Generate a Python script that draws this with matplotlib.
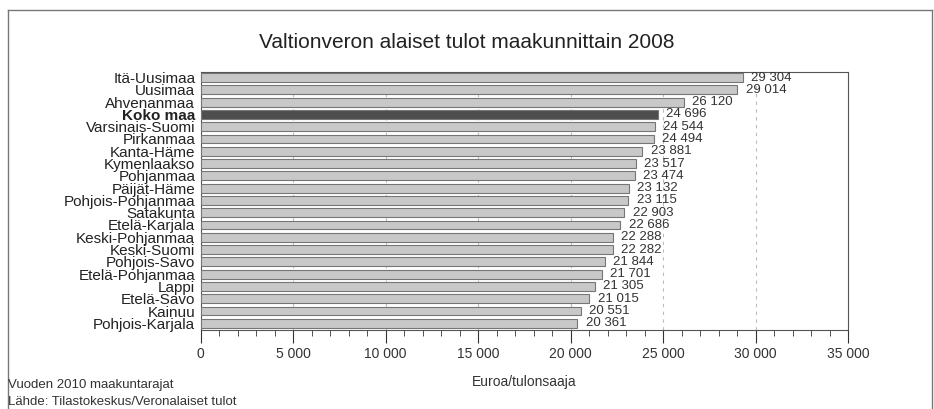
import matplotlib.pyplot as plt
from matplotlib.lines import Line2D
from matplotlib.ticker import MultipleLocator, FuncFormatter

# Data
regions = ["Itä-Uusimaa", "Uusimaa", "Ahvenanmaa", "Koko maa", "Varsinais-Suomi",
           "Pirkanmaa", "Kanta-Häme", "Kymenlaakso", "Pohjanmaa", "Päijät-Häme",
           "Pohjois-Pohjanmaa", "Satakunta", "Etelä-Karjala", "Keski-Pohjanmaa",
           "Keski-Suomi", "Pohjois-Savo", "Etelä-Pohjanmaa", "Lappi", "Etelä-Savo",
           "Kainuu", "Pohjois-Karjala"]
income = [29304, 29014, 26120, 24696, 24544, 24494, 23881, 23517, 23474, 23132,
          23115, 22903, 22686, 22288, 22282, 21844, 21701, 21305, 21015, 20551, 20361]
highlight = "Koko maa"

plt.rcParams["font.family"] = ["Liberation Sans", "DejaVu Sans"]

fig = plt.figure(figsize=(9.34, 4.09), dpi=100)
ax = fig.add_axes([0.215, 0.193, 0.693, 0.631])

ypos = list(range(len(regions)))
colors = ["#4e4e4e" if r == highlight else "#c8c8c8" for r in regions]
ax.barh(ypos, income, height=0.72, color=colors, edgecolor="#767676",
        linewidth=0.8, zorder=3)

for y, v in zip(ypos, income):
    ax.text(v + 450, y, f"{v:,}".replace(",", " "), va="center", ha="left",
            fontsize=9.5, color="#333333", zorder=4)

ax.set_ylim(len(regions) - 0.45, -0.45)
ax.set_xlim(0, 35000)
ax.set_yticks(ypos)
ax.set_yticklabels(regions, fontsize=11, color="#222222")
for lab in ax.get_yticklabels():
    if lab.get_text() == highlight:
        lab.set_fontweight("bold")
ax.tick_params(axis="y", length=0, pad=4)

ax.xaxis.set_major_locator(MultipleLocator(5000))
ax.xaxis.set_minor_locator(MultipleLocator(1000))
ax.xaxis.set_major_formatter(FuncFormatter(lambda v, p: f"{int(v):,}".replace(",", " ")))
ax.tick_params(axis="x", which="major", length=9, width=0.8, labelsize=10,
               pad=3, colors="#333333")
ax.tick_params(axis="x", which="minor", length=4, width=0.6, colors="#333333")
ax.grid(axis="x", which="major", linestyle=(0, (3, 4)), color="#bbbbbb",
        linewidth=0.8, zorder=0)

for s in ax.spines.values():
    s.set_color("#555555")
    s.set_linewidth(0.8)

ax.set_xlabel("Euroa/tulonsaaja", fontsize=10, color="#333333", labelpad=10)

fig.text(0.5, 0.897, "Valtionveron alaiset tulot maakunnittain 2008",
         ha="center", va="center", fontsize=15, color="#222222")
fig.text(0.009, 0.058, "Vuoden 2010 maakuntarajat", fontsize=9.5, color="#333333",
         va="center")
fig.text(0.009, 0.016, "Lähde: Tilastokeskus/Veronalaiset tulot", fontsize=9.5,
         color="#333333", va="center")

# outer frame
x0, x1, ytop = 8 / 934, 932 / 934, 1 - 10 / 409
for xs, ys in [([x0, x0], [0, ytop]), ([x0, x1], [ytop, ytop]), ([x1, x1], [0, ytop])]:
    fig.add_artist(Line2D(xs, ys, color="#777777", linewidth=1.0))

fig.savefig("out.png", dpi=100)
